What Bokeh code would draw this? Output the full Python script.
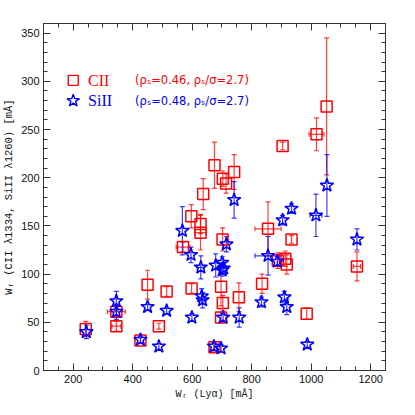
from bokeh.plotting import figure
from bokeh.models import (ColumnDataSource, Whisker, TeeHead, LinearAxis, Label,
                          Range1d, SingleIntervalTicker, CustomJSTickFormatter)
from bokeh.embed import file_html
from bokeh.resources import INLINE

# ---- data ----
cii_x = [1052, 1018, 904, 675, 741, 703, 714, 637, 597, 628, 628, 569, 702, 855, 934,
         888, 913, 918, 1154, 985, 835, 757, 703, 697, 697, 675, 242, 345, 345, 426,
         450, 488, 514, 598]
cii_y = [274, 245, 233, 213, 206, 199, 194, 183, 160, 152, 143, 128, 136, 147, 136,
         114, 116, 110, 108, 59, 90, 76, 70, 87, 55, 24, 43, 46, 61, 31,
         89, 46, 82, 85]
cii_xerr = [0, 25, 0, 0, 0, 0, 0, 0, 0, 0, 20, 23, 0, 44, 0,
            0, 0, 0, 12, 0, 0, 0, 0, 0, 0, 0, 0, 15, 30, 0,
            0, 0, 0, 0]
cii_yerr = [71, 17, 4, 24, 18, 8, 10, 16, 12, 10, 18, 5, 12, 28, 4,
            8, 8, 10, 15, 6, 10, 15, 8, 20, 5, 4, 8, 5, 5, 3,
            15, 3, 5, 5]

si_x = [1053, 1016, 934, 904, 741, 1154, 567, 855, 596, 629, 679, 701, 706, 701, 715,
        886, 345, 345, 244, 450, 514, 599, 632, 635, 426, 488, 673, 697, 704, 758,
        833, 910, 918, 987]
si_y = [192, 161, 168, 156, 177, 136, 145, 119, 120, 107, 109, 112, 106, 104, 131,
        113, 72, 61, 40, 66, 62, 55, 77, 73, 32, 25, 25, 23, 55, 55,
        71, 76, 66, 27]
si_xerr = [0, 20, 0, 0, 0, 0, 0, 44, 0, 12, 0, 0, 0, 0, 0,
           0, 0, 0, 0, 0, 0, 0, 0, 0, 0, 0, 0, 0, 0, 0,
           0, 0, 0, 0]
si_yerr = [32, 22, 5, 5, 19, 11, 25, 20, 8, 12, 12, 6, 6, 6, 8,
           5, 10, 8, 7, 3, 3, 4, 8, 8, 3, 3, 4, 4, 4, 10,
           5, 6, 8, 3]

RED = "#ff0000"
BLUE = "#0000ff"

p = figure(width=399, height=407, x_range=Range1d(100, 1250), y_range=Range1d(0, 360),
           output_backend="svg", toolbar_location=None,
           min_border_left=37, min_border_right=14, min_border_top=23, min_border_bottom=37,
           x_axis_label="Wᵣ (Lyα) [mÅ]",
           y_axis_label="Wᵣ (CII λ1334, SiII λ1260) [mÅ]")
p.grid.visible = False
p.outline_line_color = "#222222"
p.outline_line_width = 1
p.background_fill_color = "white"
p.border_fill_color = "white"


def style_axis(ax, show_labels=True, label_size="10px"):
    ax.major_tick_in = 7
    ax.major_tick_out = 0
    ax.minor_tick_in = 4
    ax.minor_tick_out = 0
    ax.axis_line_color = "#333333"
    ax.major_tick_line_color = "#333333"
    ax.minor_tick_line_color = "#333333"
    ax.major_label_text_font = "Liberation Sans"
    ax.major_label_text_font_size = "11px"
    ax.major_label_text_color = "#111111"
    ax.major_label_standoff = 4 if show_labels else 0
    ax.axis_label_text_font = "Liberation Mono"
    ax.axis_label_text_font_style = "normal"
    ax.axis_label_text_font_size = label_size
    ax.axis_label_text_color = "#111111"
    ax.axis_label_standoff = 3
    if not show_labels:
        ax.formatter = CustomJSTickFormatter(code="return '';")


p.xaxis.ticker = SingleIntervalTicker(interval=200, num_minor_ticks=4)
p.yaxis.ticker = SingleIntervalTicker(interval=50, num_minor_ticks=5)
for ax in p.xaxis:
    style_axis(ax, True, "10px")
for ax in p.yaxis:
    style_axis(ax, True, "10.5px")

top = LinearAxis(ticker=SingleIntervalTicker(interval=200, num_minor_ticks=4))
right = LinearAxis(ticker=SingleIntervalTicker(interval=50, num_minor_ticks=5))
style_axis(top, False)
style_axis(right, False)
p.add_layout(top, "above")
p.add_layout(right, "right")


def add_series(xs, ys, xerr, yerr, color):
    src = ColumnDataSource(dict(
        x=xs, y=ys,
        yl=[y - e for y, e in zip(ys, yerr)], yu=[y + e for y, e in zip(ys, yerr)]))
    idx = [i for i, e in enumerate(xerr) if e > 0]
    xsrc = ColumnDataSource(dict(
        y=[ys[i] for i in idx],
        xl=[xs[i] - xerr[i] for i in idx], xu=[xs[i] + xerr[i] for i in idx]))
    kw = dict(line_color=color, line_alpha=0.75, line_width=1.2)
    wy = Whisker(source=src, base="x", lower="yl", upper="yu", dimension="height",
                 upper_head=TeeHead(size=5, **kw), lower_head=TeeHead(size=5, **kw), **kw)
    wx = Whisker(source=xsrc, base="y", lower="xl", upper="xu", dimension="width",
                 upper_head=TeeHead(size=5, **kw), lower_head=TeeHead(size=5, **kw), **kw)
    p.add_layout(wy)
    p.add_layout(wx)
    return src


src_c = add_series(cii_x, cii_y, cii_xerr, cii_yerr, RED)
src_s = add_series(si_x, si_y, si_xerr, si_yerr, BLUE)

p.scatter("x", "y", source=src_c, marker="square", size=11, fill_color=None,
          line_color=RED, line_width=1.5)
p.scatter("x", "y", source=src_s, marker="star", size=14, fill_color=None,
          line_color=BLUE, line_width=1.5)

# ---- legend ----
p.scatter([200], [301], marker="square", size=10, fill_color=None, line_color=RED, line_width=1.4)
p.scatter([200], [280], marker="star", size=13, fill_color=None, line_color=BLUE, line_width=1.4)
p.add_layout(Label(x=250, y=301, text="CII", text_color=RED, text_font="Liberation Serif",
                   text_font_size="16px", text_baseline="middle"))
p.add_layout(Label(x=250, y=280, text="SiII", text_color=BLUE, text_font="Liberation Serif",
                   text_font_size="16px", text_baseline="middle"))
p.add_layout(Label(x=408, y=301, text="(ρₛ=0.46, ρₛ/σ=2.7)", text_color=RED,
                   text_font="DejaVu Sans", text_font_size="11.5px", text_baseline="middle"))
p.add_layout(Label(x=408, y=280, text="(ρₛ=0.48, ρₛ/σ=2.7)", text_color=BLUE,
                   text_font="DejaVu Sans", text_font_size="11.5px", text_baseline="middle"))

open("out.html", "w").write(file_html(p, INLINE))
